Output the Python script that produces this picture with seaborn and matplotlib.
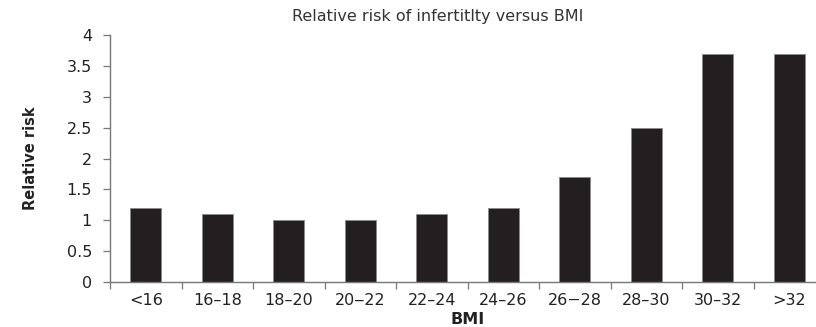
import numpy as np
import pandas as pd
import matplotlib
matplotlib.use("Agg")
import matplotlib.pyplot as plt
import seaborn as sns

sns.set_style("white")
plt.rcParams["font.family"] = ["DejaVu Sans"]

# data
bmi_groups = ["<16", "16\u201318", "18\u201320", "20\u201222", "22\u201324",
              "24\u201326", "26\u221228", "28\u201330", "30\u201332", ">32"]
relative_risk = [1.2, 1.1, 1.0, 1.0, 1.1, 1.2, 1.7, 2.5, 3.7, 3.7]
y_ticks = [0, 0.5, 1, 1.5, 2, 2.5, 3, 3.5, 4]
y_tick_labels = ["0", "0.5", "1", "1.5", "2", "2.5", "3", "3.5", "4"]

df = pd.DataFrame({"BMI": bmi_groups, "Relative risk": relative_risk})

W, H = 816, 327
fig = plt.figure(figsize=(W / 100, H / 100), dpi=100)
# axes runs slightly past the right edge, as in the cropped original
ax = fig.add_axes([110 / W, (H - 282) / H, 715 / W, (282 - 35) / H])

sns.barplot(data=df, x="BMI", y="Relative risk", color="#231f20",
            width=0.44, saturation=1, ax=ax, edgecolor="#8a8a8a", linewidth=0.6)

ax.set_ylim(0, 4)
ax.set_xlim(-0.5, len(bmi_groups) - 0.5)
ax.set_yticks(y_ticks)
ax.set_yticklabels(y_tick_labels)

# x ticks at the category boundaries
ax.set_xticks(np.arange(len(bmi_groups)))
ax.set_xticklabels(bmi_groups)
ax.set_xticks(np.arange(len(bmi_groups)) - 0.5, minor=True)
ax.tick_params(axis="x", which="major", length=0, pad=8, labelsize=11.5, colors="#222222")
ax.tick_params(axis="x", which="minor", length=5, width=0.9, color="#777777", direction="out")
ax.tick_params(axis="y", length=5, width=0.9, color="#777777", direction="out",
               labelsize=11.5, labelcolor="#222222", pad=8)
ax.xaxis.set_tick_params(bottom=True, which="both")
ax.yaxis.set_tick_params(left=True)

sns.despine(ax=ax)
for s in ["left", "bottom"]:
    ax.spines[s].set_color("#777777")
    ax.spines[s].set_linewidth(1.0)

ax.set_xlabel("")
ax.set_ylabel("")
fig.text(468 / W, 1 - 320 / H, "BMI", fontweight="bold", fontsize=11.5,
         color="#222222", ha="center", va="center")
fig.text(31 / W, 1 - 158 / H, "Relative risk", rotation=90, fontweight="bold",
         fontsize=10.5, color="#222222", ha="center", va="center")
fig.text(438 / W, 1 - 17 / H, "Relative risk of infertitlty versus BMI",
         fontsize=11.5, color="#333333", ha="center", va="center")

fig.savefig("out.png", dpi=100)
